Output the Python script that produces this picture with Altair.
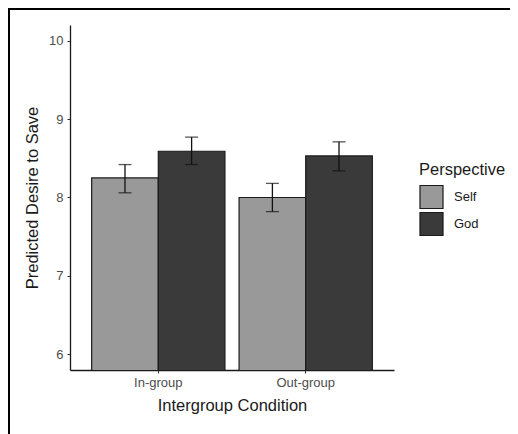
import altair as alt
import pandas as pd

conditions = ["In-group", "In-group", "Out-group", "Out-group"]
perspectives = ["Self", "God", "Self", "God"]
means = [8.25, 8.59, 8.00, 8.53]
lows = [8.06, 8.42, 7.82, 8.34]
highs = [8.42, 8.77, 8.18, 8.71]

df = pd.DataFrame({
    "Condition": conditions,
    "Perspective": perspectives,
    "mean": means,
    "lo": lows,
    "hi": highs,
})

FONT = "Liberation Sans"
persp_order = ["Self", "God"]
cond_order = ["In-group", "Out-group"]

x_enc = alt.X("Condition:N", sort=cond_order,
              scale=alt.Scale(paddingInner=0.096, paddingOuter=0.147),
              axis=alt.Axis(title="Intergroup Condition", labelAngle=0,
                            labelFontSize=13, labelColor="#4d4d4d",
                            titleFontSize=16.5, titleColor="#1a1a1a",
                            titleFontWeight="normal",
                            tickSize=3, tickColor="#333333",
                            labelPadding=3, titlePadding=8,
                            domainColor="#1a1a1a", domainWidth=1.3))
xoff = alt.XOffset("Perspective:N", sort=persp_order,
                   scale=alt.Scale(paddingInner=0, paddingOuter=0))
y_scale = alt.Scale(domain=[5.8, 10.2], zero=False, nice=False)

bars = alt.Chart(df).mark_bar(clip=True, stroke="#1a1a1a", strokeWidth=1.2).encode(
    x=x_enc,
    xOffset=xoff,
    y=alt.Y("mean:Q", scale=y_scale,
            axis=alt.Axis(title="Predicted Desire to Save", values=[6, 7, 8, 9, 10],
                          format="d",
                          labelFontSize=13, labelColor="#4d4d4d",
                          titleFontSize=16.5, titleColor="#1a1a1a",
                          titleFontWeight="normal",
                          tickSize=3, tickColor="#333333",
                          labelPadding=4, titlePadding=8, grid=False,
                          domainColor="#1a1a1a", domainWidth=1.3)),
    color=alt.Color("Perspective:N", sort=persp_order,
                    scale=alt.Scale(domain=persp_order, range=["#999999", "#3a3a3a"]),
                    legend=alt.Legend(title="Perspective", orient="none",
                                      legendX=349, legendY=137,
                                      titleFontSize=16.5, titleColor="#1a1a1a",
                                      titleFontWeight="normal", titlePadding=6,
                                      labelFontSize=13, labelColor="#1a1a1a",
                                      symbolType="square", symbolSize=530,
                                      symbolStrokeColor="#1a1a1a",
                                      symbolStrokeWidth=1.2, rowPadding=-5,
                                      labelOffset=10)),
)

err = alt.Chart(df).mark_rule(color="#111111", strokeWidth=1.3).encode(
    x=alt.X("Condition:N", sort=cond_order),
    xOffset=xoff,
    y=alt.Y("lo:Q", scale=y_scale),
    y2="hi:Q",
)
cap_lo = alt.Chart(df).mark_tick(color="#111111", size=13, thickness=1.3).encode(
    x=alt.X("Condition:N", sort=cond_order),
    xOffset=xoff,
    y=alt.Y("lo:Q", scale=y_scale),
)
cap_hi = alt.Chart(df).mark_tick(color="#111111", size=13, thickness=1.3).encode(
    x=alt.X("Condition:N", sort=cond_order),
    xOffset=xoff,
    y=alt.Y("hi:Q", scale=y_scale),
)

frame_top = alt.Chart(df).mark_rule(color="black", strokeWidth=2).encode(
    x=alt.value(-61), x2=alt.value(450), y=alt.value(-16))
frame_left = alt.Chart(df).mark_rule(color="black", strokeWidth=2).encode(
    x=alt.value(-61), y=alt.value(-17), y2=alt.value(420))

chart = alt.layer(bars, err, cap_lo, cap_hi, frame_top, frame_left).properties(
    width=324, height=345,
    autosize=alt.AutoSizeParams(type="none"),
    padding={"left": 62, "top": 17, "right": 116, "bottom": 64},
).configure(font=FONT).configure_view(stroke=None, strokeWidth=0)

chart.save("out.html", embed_options={"renderer": "svg", "actions": False})
